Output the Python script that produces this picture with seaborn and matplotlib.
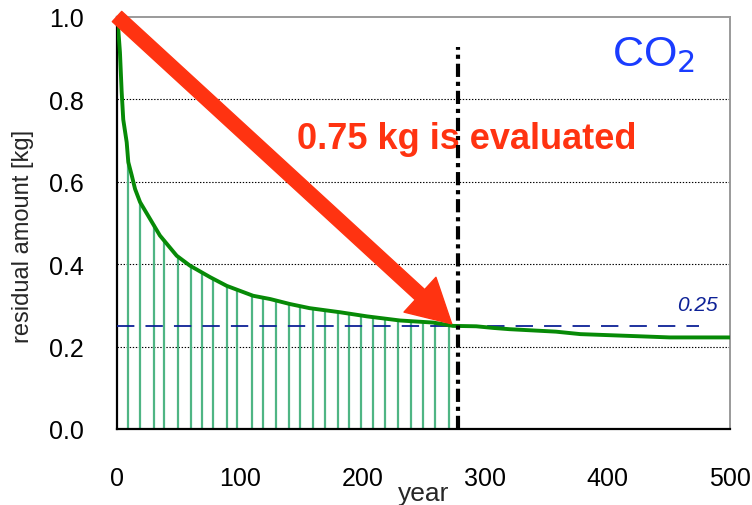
"""
Residual amount of a 1 kg CO2 pulse over time, with the 0.75 kg evaluated share.
"""

import matplotlib.pyplot as plt
import pandas as pd
import seaborn as sns

# Residual curve (year, kg)
curve_years = [0, 1, 2.4, 3.8, 5.1, 7.9, 9.2, 12, 14.7, 18.8, 27, 35, 48.7, 59.5, 76,
               89.5, 111, 125, 141, 157, 182, 204, 231, 258, 274, 293, 307, 320, 358,
               378, 424, 451, 500]
curve_vals = [1.0, 0.97, 0.913, 0.817, 0.75, 0.695, 0.647, 0.615, 0.582, 0.55, 0.509,
              0.469, 0.42, 0.396, 0.368, 0.347, 0.323, 0.315, 0.303, 0.293, 0.283,
              0.273, 0.263, 0.258, 0.25, 0.249, 0.245, 0.242, 0.236, 0.23, 0.225,
              0.222, 0.222]

# Vertical stems under the curve (area that is evaluated)
stem_years = [9, 19, 30, 38, 50, 60, 69, 78, 90, 98, 110, 119, 130, 140, 149, 160,
              170, 180, 189, 199, 209, 219, 229, 240, 250, 259, 271]
stem_vals = [0.646, 0.55, 0.497, 0.46, 0.417, 0.395, 0.38, 0.365, 0.347, 0.338, 0.325,
             0.319, 0.311, 0.304, 0.298, 0.292, 0.288, 0.284, 0.281, 0.276, 0.272,
             0.268, 0.264, 0.262, 0.26, 0.257, 0.252]

ref_level = 0.25
cutoff_year = 278
arrow_start = (0, 1.0)
arrow_end = (273, 0.255)

x_ticks = [0, 100, 200, 300, 400, 500]
y_ticks = [0.0, 0.2, 0.4, 0.6, 0.8, 1.0]
grid_levels = [0.2, 0.4, 0.6, 0.8]

sns.set_style("white")
plt.rcParams['font.family'] = ['Liberation Sans', 'DejaVu Sans']
plt.rcParams['lines.scale_dashes'] = False

fig = plt.figure(figsize=(7.52, 5.06), dpi=100)
ax = fig.add_axes([0.1556, 0.1502, 0.8151, 0.8152])

# dotted grid
for lvl in grid_levels:
    ax.axhline(lvl, color='black', lw=0.8, ls=(0, (1, 1.2)), zorder=1)

# stems
ax.vlines(stem_years, 0, stem_vals, color='#4fb584', lw=1.6, zorder=2)

# reference level
ax.plot([0, 475], [ref_level, ref_level], color='#0d2196', lw=1.3,
        ls=(0, (12.5, 8)), zorder=3)
ax.text(490, ref_level + 0.03, '0.25', color='#0d2196', style='italic',
        fontsize=15, ha='right', va='bottom')

# residual curve
df = pd.DataFrame({'year': curve_years, 'residual': curve_vals})
sns.lineplot(data=df, x='year', y='residual', color='#078a07', lw=2.8, ax=ax, zorder=4)

# cutoff line
ax.plot([cutoff_year, cutoff_year], [0, 0.925], color='black', lw=3,
        ls=(0, (9.5, 3.5, 3, 3.5)), zorder=5)

# big red arrow
ax.annotate('', xy=arrow_end, xytext=arrow_start,
            arrowprops=dict(arrowstyle='simple,head_length=1.55,head_width=1.7,tail_width=0.5',
                            mutation_scale=20, color='#ff3311', shrinkA=0, shrinkB=0),
            zorder=6)
ax.text(285, 0.705, '0.75 kg is evaluated', color='#ff3311', fontsize=26,
        fontweight='bold', ha='center', va='center')

ax.text(472, 0.86, 'CO$_2$', color='#1a3cff', fontsize=31, ha='right', va='bottom')

ax.set_xlim(0, 500)
ax.set_ylim(0, 1.0)
ax.set_xticks(x_ticks)
ax.set_yticks(y_ticks)
ax.set_yticklabels([f'{v:.1f}' for v in y_ticks])
ax.tick_params(axis='x', direction='in', length=7, width=1.2, pad=27,
               labelsize=18, colors='black')
ax.tick_params(axis='y', direction='in', length=4, width=1.2, pad=24,
               labelsize=18, colors='black')
ax.set_xlabel('year', fontsize=19, labelpad=-7)
ax.set_ylabel('residual amount [kg]', fontsize=17, labelpad=6)
ax.yaxis.set_label_coords(-0.135, 0.47)

for side in ['left', 'bottom']:
    ax.spines[side].set_color('black')
    ax.spines[side].set_linewidth(1.6)
for side in ['top', 'right']:
    ax.spines[side].set_color('#9a9a9a')
    ax.spines[side].set_linewidth(1.4)

fig.savefig('out.png', dpi=100)
